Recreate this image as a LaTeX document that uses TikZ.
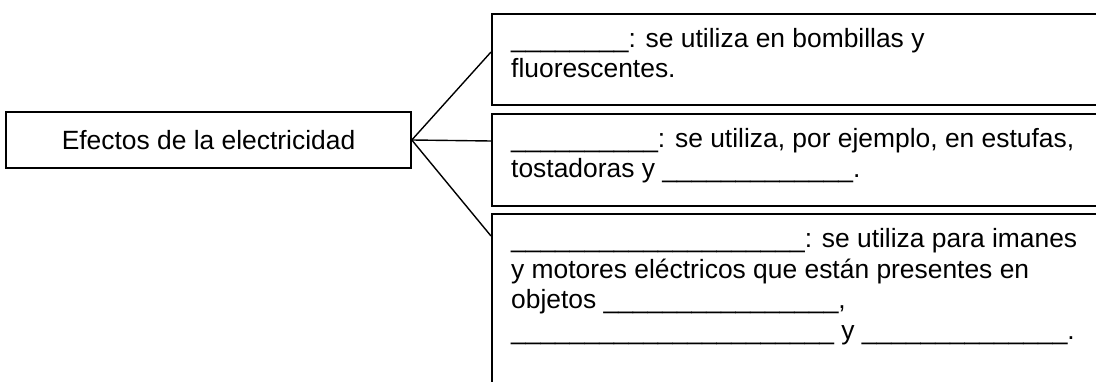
\documentclass[tikz,border=0pt]{standalone}
\usepackage{fontspec}
\setmainfont{Liberation Sans}
\begin{document}
\begin{tikzpicture}[x=1pt,y=-1pt,
  every node/.style={font=\fontsize{26.4}{30.4}\selectfont},
  frame/.style={draw, line width=1.6pt, inner sep=0pt},
  panel/.style={frame, anchor=north west, minimum width=620pt},
  txt/.style={anchor=base west, align=left, inner sep=0pt},
  link/.style={line width=1.4pt}]
\useasboundingbox (0,0) rectangle (1096,382);
\clip (0,0) rectangle (1096,382);
\node[frame, minimum width=405pt, minimum height=56pt] (main) at (208.5,140) {Efectos de la electricidad};
\node[panel, minimum height=91pt] (b1) at (491,13) {};
\node[panel, minimum height=92pt] (b2) at (491,113) {};
\node[panel, minimum height=200pt] (b3) at (491,213) {};
\node[txt] (t1) at (511,78) {\_\_\_\_\_\_\_\_: se utiliza en bombillas y\\fluorescentes.};
\node[txt] (t2) at (511,178) {\_\_\_\_\_\_\_\_\_\_: se utiliza, por ejemplo, en estufas,\\tostadoras y \_\_\_\_\_\_\_\_\_\_\_\_\_.};
\node[txt] (t3) at (511,339) {\_\_\_\_\_\_\_\_\_\_\_\_\_\_\_\_\_\_\_\_: se utiliza para imanes\\y motores eléctricos que están presentes en\\objetos \_\_\_\_\_\_\_\_\_\_\_\_\_\_\_\_,\\\_\_\_\_\_\_\_\_\_\_\_\_\_\_\_\_\_\_\_\_\_\_ y \_\_\_\_\_\_\_\_\_\_\_\_\_\_.};
\draw[link] (main.east) -- ([yshift=-39pt]b1.north west);
\draw[link] (main.east) -- ([yshift=-28pt]b2.north west);
\draw[link] (main.east) -- ([yshift=-23pt]b3.north west);
\end{tikzpicture}
\end{document}
